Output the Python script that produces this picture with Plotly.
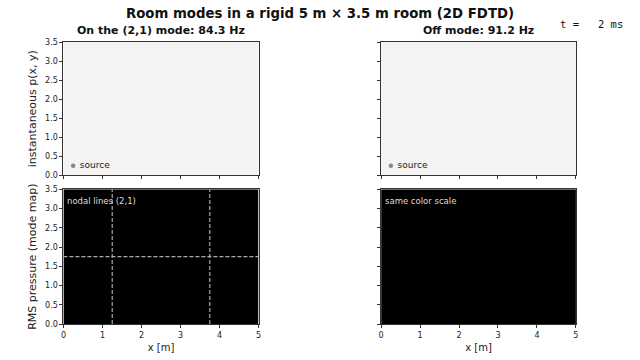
import plotly.graph_objects as go

# ---- data ----
room_x_edges = [0.0, 5.0]
room_y_edges = [0.0, 3.5]
p_inst_on = [[0.0]]
p_inst_off = [[0.0]]
rms_on = [[0.0]]
rms_off = [[0.0]]
nodal_x = [1.25, 3.75]
nodal_y = [1.75]
source_xy = [0.25, 0.25]
x_ticks = [0, 1, 2, 3, 4, 5]
y_ticks = [0.0, 0.5, 1.0, 1.5, 2.0, 2.5, 3.0, 3.5]
f_on = 84.3
f_off = 91.2
t_ms = 2

FONT = "DejaVu Sans"
fig = go.Figure()

div_scale = [[0, "#3b4cc0"], [0.5, "#f3f3f3"], [1, "#b40426"]]
rms_scale = [[0, "#000000"], [0.3, "#56106e"], [0.6, "#bb3754"], [1, "#fcffa4"]]

panels = [
    ("x", "y", p_inst_on, div_scale, -1, 1),
    ("x2", "y2", p_inst_off, div_scale, -1, 1),
    ("x3", "y3", rms_on, rms_scale, 0, 1),
    ("x4", "y4", rms_off, rms_scale, 0, 1),
]
for xa, ya, z, cs, zmin, zmax in panels:
    fig.add_trace(go.Heatmap(x=room_x_edges, y=room_y_edges, z=z, colorscale=cs,
                             zmin=zmin, zmax=zmax, showscale=False, xaxis=xa, yaxis=ya,
                             hoverinfo="skip"))

# source markers
for xa, ya in [("x", "y"), ("x2", "y2")]:
    fig.add_trace(go.Scatter(x=[source_xy[0]], y=[source_xy[1]], mode="markers+text",
                             marker=dict(color="#888888", size=4.5),
                             text=[" source"], textposition="middle right",
                             textfont=dict(family=FONT, size=9, color="#222222"),
                             xaxis=xa, yaxis=ya, showlegend=False, cliponaxis=False))

# nodal lines on (2,1) RMS panel
for nx in nodal_x:
    fig.add_trace(go.Scatter(x=[nx, nx], y=[room_y_edges[0], room_y_edges[1]], mode="lines",
                             line=dict(color="#aaaaaa", width=1.2, dash="4px,2px"),
                             xaxis="x3", yaxis="y3", showlegend=False))
for ny in nodal_y:
    fig.add_trace(go.Scatter(x=[room_x_edges[0], room_x_edges[1]], y=[ny, ny], mode="lines",
                             line=dict(color="#aaaaaa", width=1.2, dash="4px,2px"),
                             xaxis="x3", yaxis="y3", showlegend=False))

xd_left = [61 / 640, 258 / 640]
xd_right = [381.7 / 640, 578.3 / 640]
yd_top = [1 - 175.7 / 360, 1 - 39 / 360]
yd_bot = [1 - 328.3 / 360, 1 - 190 / 360]

axcommon = dict(showline=True, linecolor="#333333", linewidth=1, mirror=True,
                ticks="outside", ticklen=3, tickcolor="#333333", showgrid=False,
                zeroline=False, tickfont=dict(family=FONT, size=8, color="#222222"))

def xaxis(domain, anchor, labels):
    d = dict(axcommon, domain=domain, anchor=anchor, range=[0, 5], tickvals=x_ticks,
             showticklabels=labels)
    if labels:
        d["title"] = dict(text="x [m]", font=dict(family=FONT, size=10, color="#222222"), standoff=5)
    return d

def yaxis(domain, anchor, labels, title=None):
    d = dict(axcommon, domain=domain, anchor=anchor, range=[0, 3.5], tickvals=y_ticks,
             tickformat=".1f", showticklabels=labels)
    if title:
        d["title"] = dict(text=title, font=dict(family=FONT, size=11, color="#222222"), standoff=6)
    return d

fig.update_layout(
    width=640, height=360, margin=dict(l=0, r=0, t=0, b=0),
    paper_bgcolor="white", plot_bgcolor="white", showlegend=False,
    xaxis=xaxis(xd_left, "y", False),
    yaxis=yaxis(yd_top, "x", True, "instantaneous p(x, y)"),
    xaxis2=xaxis(xd_right, "y2", False),
    yaxis2=yaxis(yd_top, "x2", False),
    xaxis3=xaxis(xd_left, "y3", True),
    yaxis3=yaxis(yd_bot, "x3", True, "RMS pressure (mode map)"),
    xaxis4=xaxis(xd_right, "y4", True),
    yaxis4=yaxis(yd_bot, "x4", False),
)

ann = [
    dict(text="<b>Room modes in a rigid 5 m × 3.5 m room (2D FDTD)</b>", x=0.5, y=1 - 10 / 360,
         font=dict(family=FONT, size=13.3, color="#111111")),
    dict(text=f"<b>On the (2,1) mode: {f_on} Hz</b>", x=sum(xd_left) / 2, y=1 - 27.5 / 360,
         font=dict(family=FONT, size=11, color="#111111")),
    dict(text=f"<b>Off mode: {f_off} Hz</b>", x=sum(xd_right) / 2, y=1 - 27.5 / 360,
         font=dict(family=FONT, size=11, color="#111111")),
    dict(text=f"t = {t_ms:3d} ms".replace(" ", "&nbsp;"), x=594 / 640, y=1 - 20 / 360,
         font=dict(family="DejaVu Sans Mono", size=10.5, color="#111111")),
]
for a in ann:
    fig.add_annotation(xref="paper", yref="paper", showarrow=False, xanchor="center",
                       yanchor="middle", **a)

fig.add_annotation(text="nodal lines (2,1)", xref="x3", yref="y3", x=0.05, y=3.38,
                   xanchor="left", yanchor="top", showarrow=False,
                   font=dict(family=FONT, size=8.5, color="#dddddd"))
fig.add_annotation(text="same color scale", xref="x4", yref="y4", x=0.05, y=3.38,
                   xanchor="left", yanchor="top", showarrow=False,
                   font=dict(family=FONT, size=8.5, color="#dddddd"))

fig.write_html("out.html")
